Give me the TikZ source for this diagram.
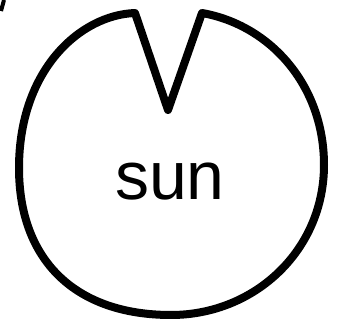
\documentclass[tikz,border=0pt]{standalone}
\usepackage{fontspec}
\setmainfont{Liberation Sans}
\begin{document}
\begin{tikzpicture}[x=1pt,y=-1pt,
  outline/.style={line width=8pt,line join=round,line cap=round,draw=black}]
\useasboundingbox (0,0) rectangle (338,326);
\fill[white] (0,0) rectangle (338,326);
% small mark at top-left
\draw[line width=4pt] (4,0) -- (1,11);
% notched disc
\draw[outline]
  (202,13) .. controls (270,25) and (324,85) .. (324,165)
  .. controls (324,250) and (255,315) .. (171,315)
  .. controls (75,315) and (19,260) .. (19,168)
  .. controls (19,70) and (80,15) .. (135,13)
  -- (168,110) -- cycle;
\node[anchor=base,inner sep=0pt,font=\fontsize{68}{68}\selectfont] (sun) at (170,200) {sun};
\end{tikzpicture}
\end{document}
